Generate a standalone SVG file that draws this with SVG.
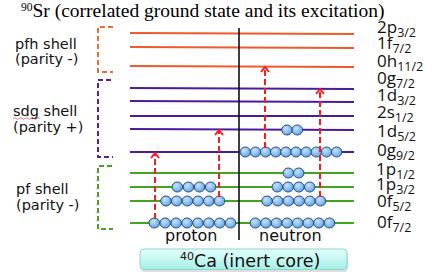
<svg xmlns="http://www.w3.org/2000/svg" width="436" height="275" viewBox="0 0 436 275">
<defs>
<radialGradient id="ballg" cx="0.4" cy="0.35" r="0.7">
<stop offset="0" stop-color="#c9e3ff"/>
<stop offset="1" stop-color="#5a9fe6"/>
</radialGradient>
<linearGradient id="coreg" x1="0" y1="0" x2="0" y2="1">
<stop offset="0" stop-color="#e4fffb"/>
<stop offset="1" stop-color="#a6efe6"/>
</linearGradient>
<g id="ball"><ellipse cx="0" cy="0" rx="5.3" ry="5" fill="url(#ballg)" stroke="#24507e" stroke-width="1"/></g>
</defs>
<style>
.title{font-family:"Liberation Serif",serif;fill:#000}
.lab{font-family:"DejaVu Sans",sans-serif;font-size:14.5px;fill:#111}
.pn{font-family:"DejaVu Sans",sans-serif;font-size:16px;fill:#111}
.lvl{font-family:"Open Sans","Liberation Sans",sans-serif;font-size:17px;fill:#111}
.sub{font-size:12.5px}
.or{stroke:#ef5a2a;stroke-width:2;fill:none}
.pu{stroke:#4c1a9e;stroke-width:2;fill:none}
.gr{stroke:#46a31e;stroke-width:2;fill:none}
.brk{fill:none;stroke-width:2;stroke-dasharray:5 3}
.arr{stroke:#ff1a1a;stroke-width:2;fill:none;stroke-dasharray:6 3}
.head{stroke:#ff1a1a;stroke-width:2;fill:none}
</style>
<text class="title" x="21" y="17"><tspan font-size="11.5" dy="-6">90</tspan><tspan font-size="19.5" dy="6">Sr (correlated ground state and its excitation)</tspan></text>

<g id="shell-labels">
<text class="lab" x="15" y="49">pfh shell</text>
<text class="lab" x="15" y="64">(parity -)</text>
<text class="lab" x="13" y="116">sdg shell</text>
<path d="M13,118.5 q1.5,-1.5 3,0 t3,0 t3,0 t3,0 t3,0 t3,0 t3,0 t3,0 t3,0" fill="none" stroke="#e05050" stroke-width="0.8"/>
<text class="lab" x="13" y="132">(parity +)</text>
<text class="lab" x="16" y="194">pf shell</text>
<text class="lab" x="16" y="210">(parity -)</text>
</g>

<g id="brackets">
<path class="brk" stroke="#ef6a30" d="M113,27 H98 V72 H113"/>
<path class="brk" stroke="#5a1aa8" d="M111,80 H98 V157 H113"/>
<path class="brk" stroke="#46a31e" d="M112,166 H98 V229 H113"/>
</g>

<g id="levels">
<line class="or" x1="130" y1="33" x2="354" y2="34"/>
<line class="or" x1="130" y1="47" x2="354" y2="48"/>
<line class="or" x1="130" y1="66" x2="354" y2="67"/>
<line class="pu" x1="130" y1="88" x2="354" y2="89"/>
<line class="pu" x1="130" y1="101" x2="354" y2="102"/>
<line class="pu" x1="130" y1="116" x2="354" y2="116"/>
<line class="pu" x1="130" y1="129" x2="354" y2="130"/>
<line class="pu" x1="130" y1="152" x2="354" y2="152"/>
<line class="gr" x1="130" y1="173" x2="354" y2="173"/>
<line class="gr" x1="130" y1="187" x2="354" y2="187"/>
<line class="gr" x1="130" y1="201" x2="354" y2="201"/>
<line class="gr" x1="130" y1="223" x2="354" y2="223"/>
<line x1="239" y1="28" x2="239" y2="240" stroke="#000" stroke-width="1.5"/>
</g>

<g id="level-labels">
<text class="lvl" x="377" y="33">2p<tspan class="sub" dy="4">3/2</tspan></text>
<text class="lvl" x="377" y="49">1f<tspan class="sub" dy="4">7/2</tspan></text>
<text class="lvl" x="377" y="67">0h<tspan class="sub" dy="4">11/2</tspan></text>
<text class="lvl" x="377" y="84">0g<tspan class="sub" dy="4">7/2</tspan></text>
<text class="lvl" x="377" y="101">1d<tspan class="sub" dy="4">3/2</tspan></text>
<text class="lvl" x="377" y="118">2s<tspan class="sub" dy="4">1/2</tspan></text>
<text class="lvl" x="377" y="137">1d<tspan class="sub" dy="4">5/2</tspan></text>
<text class="lvl" x="377" y="156">0g<tspan class="sub" dy="4">9/2</tspan></text>
<text class="lvl" x="376" y="175">1p<tspan class="sub" dy="4">1/2</tspan></text>
<text class="lvl" x="376" y="190">1p<tspan class="sub" dy="4">3/2</tspan></text>
<text class="lvl" x="377" y="207">0f<tspan class="sub" dy="4">5/2</tspan></text>
<text class="lvl" x="377" y="228">0f<tspan class="sub" dy="4">7/2</tspan></text>
</g>

<g id="protons">
<use href="#ball" x="154.3" y="223"/><use href="#ball" x="165.2" y="223"/><use href="#ball" x="176.1" y="223"/><use href="#ball" x="187" y="223"/><use href="#ball" x="197.9" y="223"/><use href="#ball" x="208.8" y="223"/><use href="#ball" x="219.7" y="223"/><use href="#ball" x="230.6" y="223"/>
<use href="#ball" x="166" y="201"/><use href="#ball" x="176.7" y="201"/><use href="#ball" x="187.4" y="201"/><use href="#ball" x="198.1" y="201"/><use href="#ball" x="208.8" y="201"/><use href="#ball" x="219.5" y="201"/>
<use href="#ball" x="177.3" y="187"/><use href="#ball" x="188.4" y="187"/><use href="#ball" x="199.5" y="187"/><use href="#ball" x="210.6" y="187"/>
</g>

<g id="neutrons">
<use href="#ball" x="255.3" y="223"/><use href="#ball" x="265.9" y="223"/><use href="#ball" x="276.5" y="223"/><use href="#ball" x="287.1" y="223"/><use href="#ball" x="297.7" y="223"/><use href="#ball" x="308.3" y="223"/><use href="#ball" x="318.9" y="223"/><use href="#ball" x="329.5" y="223"/>
<use href="#ball" x="267" y="201"/><use href="#ball" x="277.7" y="201"/><use href="#ball" x="288.4" y="201"/><use href="#ball" x="299.1" y="201"/><use href="#ball" x="309.8" y="201"/><use href="#ball" x="320.5" y="201"/>
<use href="#ball" x="277.3" y="187"/><use href="#ball" x="288.1" y="187"/><use href="#ball" x="298.9" y="187"/><use href="#ball" x="309.7" y="187"/>
<use href="#ball" x="288.3" y="173"/><use href="#ball" x="298.7" y="173"/>
<use href="#ball" x="245.3" y="152"/><use href="#ball" x="255.45" y="152"/><use href="#ball" x="265.6" y="152"/><use href="#ball" x="275.75" y="152"/><use href="#ball" x="285.9" y="152"/><use href="#ball" x="296.05" y="152"/><use href="#ball" x="306.2" y="152"/><use href="#ball" x="316.35" y="152"/><use href="#ball" x="326.5" y="152"/><use href="#ball" x="336.65" y="152"/>
<use href="#ball" x="287" y="130"/><use href="#ball" x="297.3" y="130"/>
</g>

<g id="connectors">
<line class="arr" x1="155" y1="219" x2="155" y2="154"/>
<polyline class="head" points="151,158 155,153 159,158"/>
<line class="arr" x1="219" y1="197" x2="219" y2="131"/>
<polyline class="head" points="215,135 219,130 223,135"/>
<line class="arr" x1="265" y1="148" x2="265" y2="68"/>
<polyline class="head" points="261,72 265,67 269,72"/>
<line class="arr" x1="320" y1="197" x2="320" y2="90"/>
<polyline class="head" points="316,94 320,89 324,94"/>
</g>

<text class="pn" x="165" y="241">proton</text>
<text class="pn" x="259" y="241">neutron</text>

<g id="core">
<rect x="141" y="251" width="207" height="21" rx="4" fill="#c8c8c8" opacity="0.6"/>
<rect x="140" y="249" width="207" height="20.5" rx="4" fill="url(#coreg)" stroke="#86d9cf" stroke-width="1"/>
<text x="180" y="267" font-family="DejaVu Sans,sans-serif" fill="#111"><tspan font-size="11" dy="-7">40</tspan><tspan font-size="17.5" dy="7">Ca (inert core)</tspan></text>
</g>
</svg>
